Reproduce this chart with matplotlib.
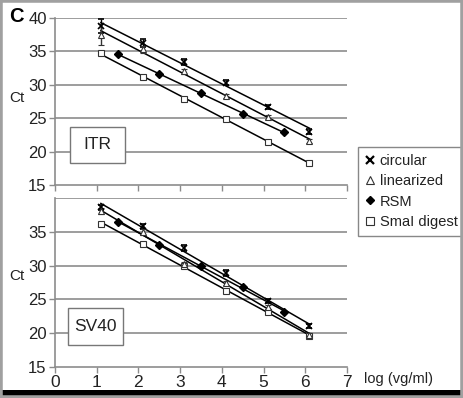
import numpy as np
import matplotlib
matplotlib.use("Agg")
import matplotlib.pyplot as plt
from matplotlib.lines import Line2D
from matplotlib.patches import Rectangle

plt.rcParams['font.family'] = ['Liberation Sans', 'DejaVu Sans']

# ---- data ----
x_main = [1.1, 2.1, 3.1, 4.1, 5.1, 6.1]
x_rsm = [1.5, 2.5, 3.5, 4.5, 5.5]

itr_circular = [38.8, 36.2, 33.4, 30.3, 26.7, 23.0]
itr_circular_err = [1.1, 0.6, 0.5, 0.4, 0.3, 0.4]
itr_linearized = [37.5, 35.3, 32.0, 28.3, 25.2, 21.6]
itr_linearized_err = [1.6, 0.5, 0.4, 0.3, 0.3, 0.3]
itr_rsm = [34.6, 31.6, 28.8, 25.6, 22.9]
itr_smai = [34.7, 31.2, 27.9, 24.9, 21.5, 18.3]

sv_circular = [38.6, 35.8, 32.6, 28.9, 24.7, 21.0]
sv_circular_err = [0.4, 0.4, 0.4, 0.4, 0.3, 0.3]
sv_linearized = [38.1, 35.0, 30.2, 27.4, 23.9, 19.8]
sv_linearized_err = [0.4, 0.4, 0.3, 0.3, 0.3, 0.3]
sv_rsm = [36.5, 33.1, 30.0, 26.8, 23.1]
sv_smai = [36.2, 33.2, 30.0, 26.3, 23.1, 19.6]

legend_labels = ['circular', 'linearized', 'RSM', 'SmaI digest']
panel_names = ['ITR', 'SV40']
yticks_top = [15, 20, 25, 30, 35, 40]
yticks_bot = [15, 20, 25, 30, 35]
xticks = [0, 1, 2, 3, 4, 5, 6, 7]

W, H = 463, 398
fig = plt.figure(figsize=(W / 100, H / 100), dpi=100)
fig.patch.set_facecolor('white')

grid_col = '#8c8c8c'


def fit_line(ax, x, y):
    x = np.asarray(x, float)
    y = np.asarray(y, float)
    p = np.polyfit(x, y, 1)
    xs = np.array([x.min(), x.max()])
    ax.plot(xs, np.polyval(p, xs), color='black', lw=1.1, zorder=3)


def draw_panel(ax, circ, circ_err, lin, lin_err, rsm, smai, name, yticks, gridticks, box):
    ax.set_xlim(0, 7)
    ax.set_ylim(15, 40)
    for g in gridticks:
        ax.axhline(g, color=grid_col, lw=1.2, zorder=1)
    for s in ['top', 'right']:
        ax.spines[s].set_visible(False)
    for s in ['left', 'bottom']:
        ax.spines[s].set_color(grid_col)
        ax.spines[s].set_linewidth(1.2)
    ax.set_yticks(yticks)
    ax.set_xticks(xticks)
    ax.tick_params(axis='both', colors=grid_col, length=4, width=1.0,
                   labelsize=12, labelcolor='#222222', pad=2)
    fit_line(ax, x_main, circ)
    fit_line(ax, x_main, lin)
    fit_line(ax, x_rsm, rsm)
    fit_line(ax, x_main, smai)
    ax.errorbar(x_main, circ, yerr=circ_err, fmt='x', color='black', ms=4.5,
                mew=1.2, capsize=2.5, elinewidth=1.0, zorder=5)
    ax.errorbar(x_main, lin, yerr=lin_err, fmt='^', mfc='white', mec='#333333',
                ecolor='#333333', ms=4.5, mew=0.8, capsize=2.5, elinewidth=1.0, zorder=5)
    ax.plot(x_rsm, rsm, 'D', color='black', ms=3.8, zorder=5, ls='none')
    ax.plot(x_main, smai, 's', mfc='white', mec='#333333', ms=4.8, mew=0.8,
            zorder=5, ls='none')
    ax.add_patch(Rectangle((box[0], box[1]), box[2], box[3], transform=ax.transAxes,
                           facecolor='white', edgecolor='#777777', lw=1.0, zorder=6))
    ax.text(box[0] + box[2] / 2, box[1] + box[3] / 2, name, transform=ax.transAxes,
            ha='center', va='center', fontsize=12.5, color='#222222', zorder=7)


ax1 = fig.add_axes([55 / W, 1 - 185 / H, 292 / W, 167 / H])
ax2 = fig.add_axes([55 / W, 1 - 367 / H, 292 / W, 169 / H])

draw_panel(ax1, itr_circular, itr_circular_err, itr_linearized, itr_linearized_err,
           itr_rsm, itr_smai, panel_names[0], yticks_top, [20, 25, 30, 35, 40],
           (0.051, 0.132, 0.188, 0.216))
ax1.tick_params(axis='x', labelbottom=False)
draw_panel(ax2, sv_circular, sv_circular_err, sv_linearized, sv_linearized_err,
           sv_rsm, sv_smai, panel_names[1], yticks_bot, [20, 25, 30, 35, 40],
           (0.045, 0.130, 0.188, 0.219))
ax2.tick_params(axis='x', labelsize=12.5)

# labels
fig.text(9 / W, 1 - 17 / H, 'C', fontsize=14.5, fontweight='bold', va='center', ha='left')
fig.text(17 / W, 1 - 98 / H, 'Ct', fontsize=11, va='center', ha='center', color='#222222')
fig.text(17 / W, 1 - 276 / H, 'Ct', fontsize=11, va='center', ha='center', color='#222222')
fig.text(364 / W, 1 - 379 / H, 'log (vg/ml)', fontsize=10.5, va='center', ha='left',
         color='#222222')

# legend
handles = [
    Line2D([], [], marker='x', color='black', ls='none', ms=6, mew=1.6),
    Line2D([], [], marker='^', mfc='white', mec='#333333', ls='none', ms=6, mew=0.8),
    Line2D([], [], marker='D', color='black', ls='none', ms=4.5),
    Line2D([], [], marker='s', mfc='white', mec='#333333', ls='none', ms=6, mew=0.8),
]
leg = fig.legend(handles, legend_labels, loc='upper left',
                 bbox_to_anchor=(358 / W, 1 - 147 / H), fontsize=10.5,
                 frameon=True, fancybox=False, handlelength=0.6, handletextpad=0.4,
                 borderpad=0.5, labelspacing=0.42, borderaxespad=0, framealpha=1)
leg.get_frame().set_edgecolor('#888888')
leg.get_frame().set_linewidth(1.0)
for t in leg.get_texts():
    t.set_color('#222222')

# image frame and black bar
fig.add_artist(Rectangle((0, 0), 1, 8 / H, transform=fig.transFigure,
                         facecolor='black', edgecolor='none', zorder=10))
fig.add_artist(Rectangle((0, 0), 1, 1, transform=fig.transFigure, facecolor='none',
                         edgecolor='#a0a0a0', lw=4, zorder=11))

fig.savefig('out.png', dpi=100)
